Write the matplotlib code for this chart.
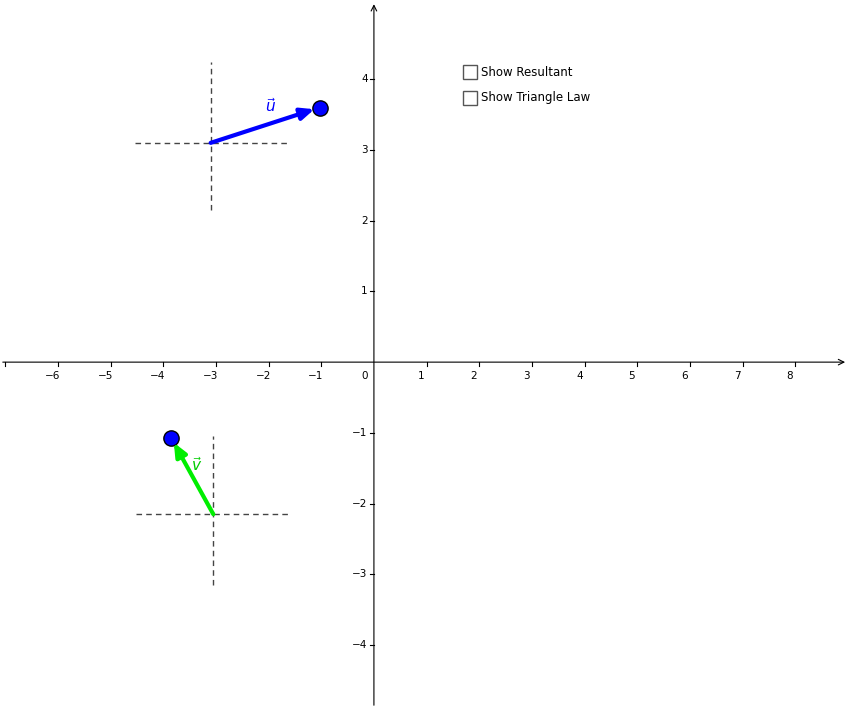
import matplotlib.pyplot as plt

# vector data (graph units)
u_start = (-3.1, 3.1)
u_end = (-1.03, 3.6)
v_start = (-3.05, -2.15)
v_end = (-3.85, -1.07)
x_ticks = [-6, -5, -4, -3, -2, -1, 1, 2, 3, 4, 5, 6, 7, 8]
y_ticks = [-4, -3, -2, -1, 1, 2, 3, 4]
checkbox_labels = ["Show Resultant", "Show Triangle Law"]

fig = plt.figure(figsize=(8.5, 7.08), dpi=100)
ax = fig.add_axes([0, 0, 1, 1])
ax.set_xlim(-7.1, 9.04)
ax.set_ylim(-4.89, 5.12)
ax.axis("off")

# axes with arrows
ax.annotate("", xy=(9.0, 0), xytext=(-7.1, 0),
            arrowprops=dict(arrowstyle="->", color="black", lw=0.8))
ax.annotate("", xy=(0, 5.1), xytext=(0, -4.89),
            arrowprops=dict(arrowstyle="->", color="black", lw=0.8))
ax.plot([-7.0, -7.0], [0, -0.05], color="black", lw=0.8)
for t in x_ticks:
    ax.plot([t, t], [0, -0.05], color="black", lw=0.8)
    ax.text(t - 0.1, -0.13, f"\u2212{abs(t)}" if t < 0 else str(t),
            ha="center", va="top", fontsize=7.5)
for t in y_ticks:
    ax.plot([0, -0.08], [t, t], color="black", lw=0.8)
    ax.text(-0.12, t, f"\u2212{abs(t)}" if t < 0 else str(t),
            ha="right", va="center", fontsize=7.5)
ax.text(-0.12, -0.13, "0", ha="right", va="top", fontsize=7.5)

# dashed crosshairs
dash = dict(color="#444444", lw=1, ls=(0, (4, 3)))
ax.plot([-4.54, -1.63], [u_start[1], u_start[1]], **dash)
ax.plot([u_start[0], u_start[0]], [2.15, 4.24], **dash)
ax.plot([-4.52, -1.6], [v_start[1], v_start[1]], **dash)
ax.plot([v_start[0], v_start[0]], [-3.15, -1.05], **dash)

# vectors
ax.annotate("", xy=u_end, xytext=u_start,
            arrowprops=dict(arrowstyle="-|>,head_length=0.8,head_width=0.35",
                            color="#0000ff", lw=3, shrinkA=0, shrinkB=4))
ax.annotate("", xy=v_end, xytext=v_start,
            arrowprops=dict(arrowstyle="-|>,head_length=0.8,head_width=0.35",
                            color="#00ee00", lw=3, shrinkA=0, shrinkB=4))
ax.plot(*u_end, "o", ms=11, mfc="#0000ff", mec="black", mew=1)
ax.plot(*v_end, "o", ms=11, mfc="#0000ff", mec="black", mew=1)
ax.text(-1.96, 3.62, r"$\vec{u}$", color="#0000ff", fontsize=11, ha="center", va="center")
ax.text(-3.36, -1.46, r"$\vec{v}$", color="#00cc00", fontsize=11, ha="center", va="center")

# checkboxes
for i, lab in enumerate(checkbox_labels):
    y = 72 + 26 * i
    fig.patches.append(plt.Rectangle((463 / 850, 1 - (y + 7) / 708), 14 / 850, 14 / 708,
                                     transform=fig.transFigure, fill=False,
                                     ec="#555555", lw=1))
    fig.text(481 / 850, 1 - y / 708, lab, fontsize=8.5, va="center", ha="left")

fig.savefig("out.png", dpi=100)
